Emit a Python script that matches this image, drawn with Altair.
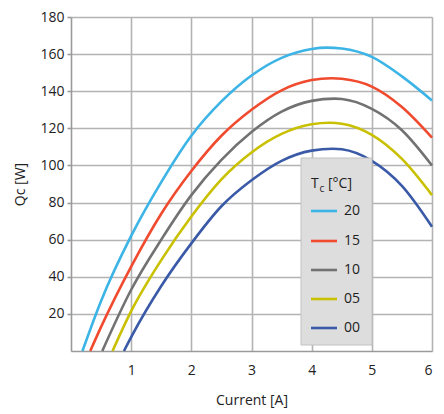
import altair as alt
import pandas as pd

# ---- data ----
series_names = ["20", "15", "10", "05", "00"]
series_colors = ["#3cb4e6", "#f04a2f", "#727272", "#c9c000", "#3a5aa8"]

I_20 = [0.19, 0.5, 1, 1.5, 2, 2.5, 3, 3.5, 4, 4.25, 4.5, 5, 5.5, 6]
Q_20 = [0, 27, 62, 91, 116, 134.5, 148.5, 158, 162.8, 163.5, 163, 158.5, 148, 135]

I_15 = [0.32, 0.5, 1, 1.5, 2, 2.5, 3, 3.5, 4, 4.33, 4.5, 5, 5.5, 6]
Q_15 = [0, 13, 45.5, 74, 97, 116, 130, 140.5, 146, 147, 146.7, 142.5, 131.5, 115]

I_10 = [0.52, 1, 1.5, 2, 2.5, 3, 3.5, 4, 4.38, 4.5, 5, 5.5, 6]
Q_10 = [0, 33, 60, 84, 103, 118, 129, 134.8, 136, 135.8, 130.5, 119, 100]

I_05 = [0.69, 1, 1.5, 2, 2.5, 3, 3.5, 4, 4.3, 4.5, 5, 5.5, 6]
Q_05 = [0, 21.5, 49, 72.5, 92.5, 107, 117, 122.2, 123, 122.5, 116.5, 103.5, 84]

I_00 = [0.88, 1, 1.5, 2, 2.5, 3, 3.5, 4, 4.35, 4.5, 5, 5.5, 6]
Q_00 = [0, 7.5, 35, 58, 78, 92, 102.5, 108, 109, 108.7, 102.5, 89, 67]

x_ticks = [1, 2, 3, 4, 5, 6]
y_ticks = [20, 40, 60, 80, 100, 120, 140, 160, 180]

FONT = "Open Sans"
W, H = 361, 334

rows = []
for name, xs, ys in [("20", I_20, Q_20), ("15", I_15, Q_15), ("10", I_10, Q_10),
                     ("05", I_05, Q_05), ("00", I_00, Q_00)]:
    for a, b in zip(xs, ys):
        rows.append({"I": a, "Q": b, "T": name})
df = pd.DataFrame(rows)

color_scale = alt.Scale(domain=series_names, range=series_colors)

lines = alt.Chart(df).mark_line(interpolate="monotone", strokeWidth=2.6).encode(
    x=alt.X("I:Q", scale=alt.Scale(domain=[0, 6], nice=False),
            axis=alt.Axis(values=x_ticks, title="Current [A]", grid=True,
                          gridColor="#b3b3b3", gridWidth=1.6,
                          domainColor="#9a9a9a", domainWidth=1.6,
                          ticks=False, labelPadding=12, labelFontSize=14,
                          labelFont=FONT, labelColor="#222222",
                          titleFont=FONT, titleFontSize=14, titleFontWeight="normal",
                          titleColor="#222222", titlePadding=16)),
    y=alt.Y("Q:Q", scale=alt.Scale(domain=[0, 180], nice=False),
            axis=alt.Axis(values=y_ticks, title="Qc [W]", grid=True,
                          gridColor="#b3b3b3", gridWidth=1.6,
                          domainColor="#9a9a9a", domainWidth=1.6,
                          ticks=True, tickSize=4, tickColor="#9a9a9a", tickWidth=1.6,
                          labelPadding=3, labelFontSize=14,
                          labelFont=FONT, labelColor="#222222",
                          titleFont=FONT, titleFontSize=14, titleFontWeight="normal",
                          titleColor="#222222", titlePadding=12)),
    color=alt.Color("T:N", scale=color_scale, legend=None),
    order=alt.Order("I:Q"),
)

one = pd.DataFrame({"k": [0]})

# legend box in plot-area pixels
BX0, BX1, BY0, BY1 = 230, 301, 141, 328

legend_box = alt.Chart(one).mark_rect(fill="#dddddd", stroke="#c2c2c2", strokeWidth=1).encode(
    x=alt.value(BX0), x2=alt.value(BX1), y=alt.value(BY0), y2=alt.value(BY1)
)

layers = [lines, legend_box]

# legend title  T_c [°C]
layers.append(alt.Chart(one).mark_text(align="left", baseline="middle", fontSize=14, font=FONT,
                                       color="#222222").encode(
    x=alt.value(240), y=alt.value(167), text=alt.value("T")))
layers.append(alt.Chart(one).mark_text(align="left", baseline="middle", fontSize=10, font=FONT,
                                       color="#222222").encode(
    x=alt.value(248.5), y=alt.value(171.5), text=alt.value("c")))
layers.append(alt.Chart(one).mark_text(align="left", baseline="middle", fontSize=14, font=FONT,
                                       color="#222222").encode(
    x=alt.value(257), y=alt.value(167), text=alt.value("[°C]")))

legend_y = [194, 224, 253, 282, 311]
for name, col, ly in zip(series_names, series_colors, legend_y):
    layers.append(alt.Chart(one).mark_rule(strokeWidth=2.6, color=col).encode(
        x=alt.value(240), x2=alt.value(266), y=alt.value(ly)))
    layers.append(alt.Chart(one).mark_text(align="left", baseline="middle", fontSize=14,
                                           font=FONT, color="#222222").encode(
        x=alt.value(273), y=alt.value(ly), text=alt.value(name)))

chart = alt.layer(*layers).properties(
    width=W, height=H,
    autosize=alt.AutoSizeParams(type="none"),
    padding={"left": 63, "top": 9, "right": 4, "bottom": 62},
).configure_view(stroke=None).configure(background="white")

chart.save("out.html", embed_options={"renderer": "svg", "actions": False})
